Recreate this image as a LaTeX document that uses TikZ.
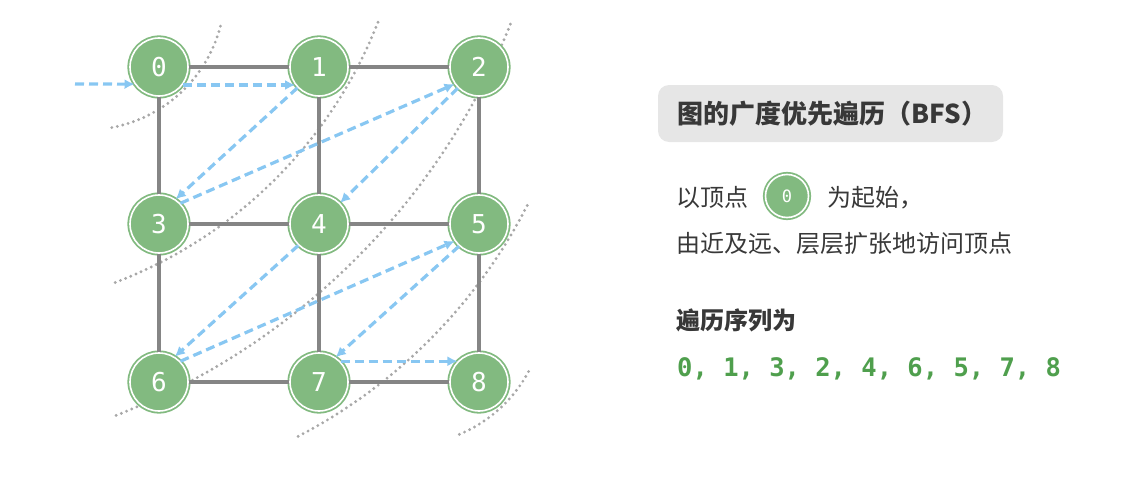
\documentclass[tikz,border=0pt]{standalone}
\usepackage{fontspec}
\setmainfont{Noto Sans CJK SC}
\newfontfamily\cjkfont{Noto Sans CJK SC}
\newfontfamily\monofont{DejaVu Sans Mono}
\usetikzlibrary{arrows.meta}
\definecolor{ngreen}{HTML}{82BA80}
\definecolor{seqgreen}{HTML}{4F9F4D}
\definecolor{edgegray}{HTML}{858585}
\definecolor{dotgray}{HTML}{A8A8A8}
\definecolor{arrblue}{HTML}{88C7F2}
\definecolor{boxgray}{HTML}{E6E6E6}
\definecolor{txt}{HTML}{383838}
\tikzset{
  vert/.style={circle, fill=ngreen, draw=ngreen, double=white, double distance=1.6pt,
    line width=1.8pt, minimum size=58pt, inner sep=0pt, text=white,
    font=\monofont\fontsize{26}{26}\selectfont},
  smallvert/.style={vert, minimum size=43pt, font=\monofont\fontsize{17}{17}\selectfont},
  edge/.style={draw=edgegray, line width=3.2pt},
  dots/.style={draw=dotgray, line width=3.2pt, line cap=round, dash pattern=on 0pt off 5.6pt},
  arr/.style={draw=arrblue, line width=3.2pt, dash pattern=on 9pt off 5pt,
    -{Latex[length=10pt,width=10pt]}},
  body/.style={anchor=base west, inner sep=0pt, text=txt, font=\cjkfont\fontsize{24}{24}\selectfont},
}
\begin{document}
\begin{tikzpicture}[x=1pt,y=-1pt]
\useasboundingbox (0,0) rectangle (1121,487);
% layer separators
\draw[dots] (86,-9) ++(79.3:139) arc[start angle=79.3, end angle=12.8, radius=139];
\draw[dots] (-46,-143) ++(69.25:455) arc[start angle=69.25, end angle=20.75, radius=455];
\draw[dots] (-137,-234) ++(68.7:697) arc[start angle=68.7, end angle=21.5, radius=697];
\draw[dots] (51.6,-37.3) ++(62.5:534) arc[start angle=62.5, end angle=26.7, radius=534];
\draw[dots] (406,306) ++(67.4:139) arc[start angle=67.4, end angle=26.6, radius=139];
% vertices
\node[vert] (n0) at (159,67) {0};
\node[vert] (n1) at (319,67) {1};
\node[vert] (n2) at (479,67) {2};
\node[vert] (n3) at (159,224) {3};
\node[vert] (n4) at (319,224) {4};
\node[vert] (n5) at (479,224) {5};
\node[vert] (n6) at (159,382) {6};
\node[vert] (n7) at (319,382) {7};
\node[vert] (n8) at (479,382) {8};
% edges
\foreach \a/\b in {n0/n1,n1/n2,n3/n4,n4/n5,n6/n7,n7/n8,n0/n3,n1/n4,n2/n5,n3/n6,n4/n7,n5/n8}
  \draw[edge] (\a) -- (\b);
% traversal arrows
\coordinate (entry) at (75,84);
\draw[arr] (entry) -- (n0.-145);
\draw[arr] (n0.-37) -- (n1.-143);
\draw[arr] (n1.-136) -- (n3.56);
\draw[arr] (n3.44) -- (n2.-145);
\draw[arr] (n2.-135) -- (n4.45);
\draw[arr] (n4.-134) -- (n6.58);
\draw[arr] (n6.44) -- (n5.-145);
\draw[arr] (n5.-132) -- (n7.56);
\draw[arr] (n7.44) -- (n8.136);
% right panel
\node[fill=boxgray, rounded corners=11pt, text width=306pt, align=left, inner xsep=19.5pt,
  minimum height=57pt, text=txt, font=\cjkfont\bfseries\fontsize{26}{26}\selectfont]
  (title) at (830.5,113.5) {图的广度优先遍历（BFS）};
\node[body] (l2a) at (676,206) {以顶点};
\node[smallvert] (sv) at (787,196) {0};
\node[body] (l2b) at (827,206) {为起始，};
\node[body] (l3) at (676,252) {由近及远、层层扩张地访问顶点};
\node[body, font=\cjkfont\bfseries\fontsize{24}{24}\selectfont] (l4) at (676,329) {遍历序列为};
\node[anchor=base west, inner sep=0pt, text=seqgreen, font=\monofont\bfseries\fontsize{25.5}{25.5}\selectfont]
  (seq) at (677,376) {0, 1, 3, 2, 4, 6, 5, 7, 8};
\end{tikzpicture}
\end{document}
